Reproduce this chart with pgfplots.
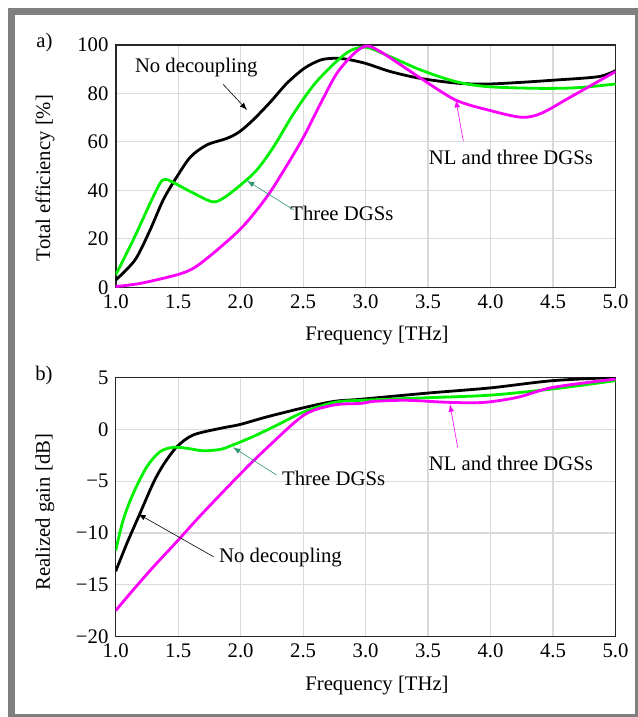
\documentclass[border=0pt]{standalone}
\usepackage{fontspec}
\setmainfont{Liberation Serif}
\usepackage{pgfplots}
\pgfplotsset{compat=1.18}
\definecolor{gridgray}{RGB}{218,218,218}
\definecolor{framegray}{RGB}{128,128,128}
\definecolor{mygreen}{RGB}{0,240,0}
\definecolor{mymag}{RGB}{250,0,250}
\definecolor{teal2}{RGB}{50,150,110}
\pgfplotsset{
  myaxis/.style={
    scale only axis,
    width=249.9bp,
    xmin=1, xmax=5,
    xtick={1,1.5,2,2.5,3,3.5,4,4.5,5},
    xticklabels={1.0,1.5,2.0,2.5,3.0,3.5,4.0,4.5,5.0},
    grid=major,
    major grid style={gridgray, line width=0.6bp},
    major tick length=0pt,
    axis line style={line width=0.8bp, black!85},
    tick label style={font=\fontsize{10.4}{12}\selectfont},
    anchor=south west,
  },
  c1/.style={black, line width=1.4bp, smooth, tension=0.5, no marks},
  c2/.style={mygreen, line width=1.4bp, smooth, tension=0.5, no marks},
  c3/.style={mymag, line width=1.4bp, smooth, tension=0.5, no marks},
}
\begin{document}
\fontsize{10.4}{12.5}\selectfont
\begin{tikzpicture}
\useasboundingbox (0,0) rectangle (319bp,-358.5bp);
\draw[line width=3.5bp, framegray] (5.75bp,-5.75bp) rectangle (319.1bp,-358.6bp);

\node at (22.25bp,-21.5bp) {a)};
\node at (22bp,-188bp) {b)};
\node[rotate=90] at (22.5bp,-89bp) {Total efficiency [\%]};
\node[rotate=90] at (22.5bp,-256bp) {Realized gain [dB]};
\node at (188.5bp,-168bp) {Frequency [THz]};
\node at (188.5bp,-343bp) {Frequency [THz]};

\begin{axis}[myaxis, at={(57.85bp,-143.65bp)}, height=121.3bp,
  ymin=0, ymax=100, ytick={0,20,40,60,80,100},
  yticklabels={0,20,40,60,80,100}]
\addplot[c1] coordinates {
(1.0,3.0) (1.155,11.3) (1.275,23.6) (1.38,36) (1.49,45.6) (1.6,53.8) (1.73,58.7)
(1.89,61.4) (1.99,64.1) (2.1,69) (2.24,76.5) (2.37,84.1) (2.51,90.3) (2.64,93.7)
(2.75,94.4) (2.85,94) (3.0,92.3) (3.2,88.9) (3.44,86.1) (3.74,84.1) (3.98,83.8)
(4.25,84.5) (4.51,85.4) (4.86,86.8) (5.0,89.3)};
\addplot[c2] coordinates {
(1.0,5.1) (1.14,19.5) (1.275,34.6) (1.355,42.9) (1.395,44.5) (1.45,43.5) (1.6,39.4)
(1.77,35.3) (1.86,36.7) (2.0,42.2) (2.13,48.4) (2.265,58) (2.425,71.7) (2.585,83.4)
(2.75,92.3) (2.88,97.6) (3.01,98.9) (3.2,95) (3.44,89.6) (3.72,84.8) (3.98,82.7)
(4.4,82.0) (4.7,82.3) (5.0,83.8)};
\addplot[c3] coordinates {
(1.0,0.3) (1.195,1.6) (1.48,5) (1.62,7.8) (1.78,14) (1.99,23.6) (2.13,31.9)
(2.265,41.5) (2.49,60.7) (2.64,75.8) (2.77,88.2) (2.91,96.5) (3.01,99.5) (3.12,97.1)
(3.33,90.0) (3.44,86.2) (3.72,77.2) (3.98,73.1) (4.245,70.1) (4.405,71.7) (4.646,78.6)
(5.0,88.9)};
\node at (axis cs:1.645,90.4) {No decoupling};
\draw[-latex, black, line width=0.3bp] (axis cs:1.859,83.7) -- (axis cs:2.051,73.1);
\node at (axis cs:2.81,30.6) {Three DGSs};
\draw[-latex, teal2, line width=0.3bp] (axis cs:2.425,31.9) -- (axis cs:2.051,43.9);
\node at (axis cs:4.163,53.7) {NL and three DGSs};
\draw[-latex, mymag, line width=0.3bp] (axis cs:3.782,60.3) -- (axis cs:3.723,77.2);
\end{axis}

\begin{axis}[myaxis, at={(57.85bp,-318.25bp)}, height=129.5bp,
  ymin=-20, ymax=5, ytick={-20,-15,-10,-5,0,5},
  yticklabels={−20,−15,−10,−5,0,5}]
\addplot[c1] coordinates {
(1.0,-13.7) (1.09,-11.0) (1.195,-8.1) (1.3,-5.2) (1.38,-3.45) (1.49,-1.68) (1.62,-0.55)
(1.84,0.1) (1.99,0.45) (2.21,1.2) (2.51,2.1) (2.75,2.7) (2.96,2.9) (3.5,3.5)
(4.0,4.0) (4.5,4.7) (5.0,5.0)};
\addplot[c2] coordinates {
(1.0,-11.7) (1.06,-8.75) (1.14,-6.2) (1.25,-3.6) (1.355,-2.16) (1.46,-1.74) (1.57,-1.83)
(1.7,-2.07) (1.84,-1.93) (1.94,-1.5) (2.1,-0.7) (2.29,0.4) (2.51,1.7) (2.75,2.6) (2.96,2.8)
(3.5,3.05) (4.0,3.3) (4.5,3.9) (5.0,4.7)};
\addplot[c3] coordinates {
(1.0,-17.5) (1.14,-15.5) (1.3,-13.3) (1.5,-10.7) (1.68,-8.3) (1.99,-4.4) (2.21,-1.8)
(2.51,1.4) (2.75,2.35) (2.96,2.5) (3.07,2.7) (3.33,2.8) (3.67,2.6) (3.95,2.6)
(4.22,3.1) (4.5,4.05) (5.0,4.85)};
\node at (axis cs:2.744,-4.7) {Three DGSs};
\draw[-latex, teal2, line width=0.3bp] (axis cs:2.287,-4.41) -- (axis cs:1.939,-1.74);
\node at (axis cs:2.319,-12.42) {No decoupling};
\draw[-latex, black, line width=0.3bp] (axis cs:1.783,-12.3) -- (axis cs:1.181,-8.18);
\node at (axis cs:4.163,-3.25) {NL and three DGSs};
\draw[-latex, mymag, line width=0.3bp] (axis cs:3.737,-1.74) -- (axis cs:3.675,2.41);
\end{axis}
\end{tikzpicture}
\end{document}
